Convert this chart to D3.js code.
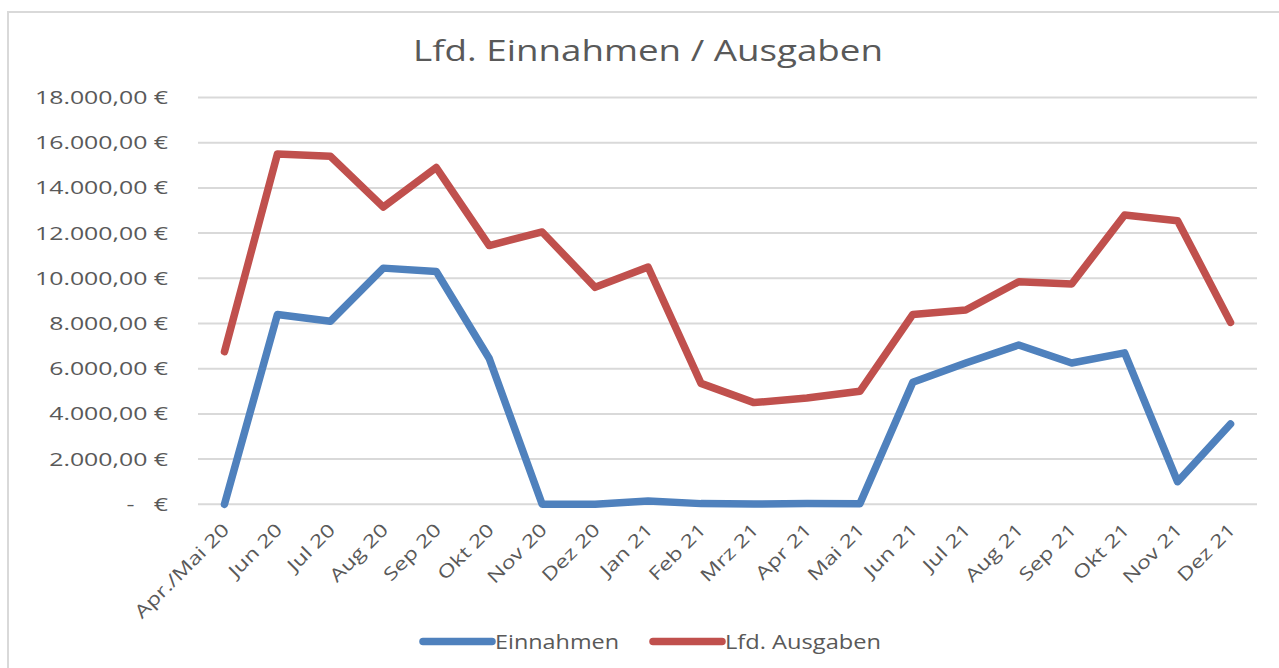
<!DOCTYPE html>
<html>
<head>
<meta charset="utf-8">
<script src="https://cdn.jsdelivr.net/npm/d3@7"></script>
<style>
  body { margin: 0; background: #fff; }
  text { font-family: "Open Sans", sans-serif; fill: #595959; }
</style>
</head>
<body>
<script>
// chart data
var categories = ["Apr./Mai 20", "Jun 20", "Jul 20", "Aug 20", "Sep 20", "Okt 20", "Nov 20", "Dez 20",
    "Jan 21", "Feb 21", "Mrz 21", "Apr 21", "Mai 21", "Jun 21", "Jul 21", "Aug 21", "Sep 21",
    "Okt 21", "Nov 21", "Dez 21"];
var einnahmen = [0, 8400, 8100, 10450, 10300, 6450, 0, 0, 150, 30, 10, 30, 20,
    5400, 6250, 7050, 6250, 6700, 1000, 3550];
var ausgaben = [6750, 15500, 15400, 13150, 14900, 11450, 12050, 9600, 10500, 5350, 4500, 4700, 5000,
    8400, 8600, 9850, 9750, 12800, 12550, 8050];
var yTicks = [0, 2000, 4000, 6000, 8000, 10000, 12000, 14000, 16000, 18000];
var seriesNames = ["Einnahmen", "Lfd. Ausgaben"];
var seriesColors = ["#4f81bd", "#c0504d"];

function init() {
    var width = 1279;
    var height = 668;

    var svg = d3.select("body").append("svg")
        .attr("width", width)
        .attr("height", height);

    // outer chart frame
    svg.append("rect")
        .attr("x", 8).attr("y", 12)
        .attr("width", 1300).attr("height", 700)
        .attr("fill", "none")
        .attr("stroke", "#d9d9d9")
        .attr("stroke-width", 2);

    var x = d3.scalePoint()
        .domain(categories)
        .range([198, 1257])
        .padding(0.5);

    var y = d3.scaleLinear()
        .domain([0, 18000])
        .range([504.3, 97.5]);

    var de = d3.formatLocale({ decimal: ",", thousands: ".", grouping: [3], currency: ["", " €"] });
    var fmt = de.format(",.2f");
    function label(v) { return v === 0 ? "-   €" : fmt(v) + " €"; }

    // gridlines
    svg.append("g").selectAll("line")
        .data(yTicks)
        .enter().append("line")
        .attr("x1", 198).attr("x2", 1257)
        .attr("y1", function(d) { return y(d); })
        .attr("y2", function(d) { return y(d); })
        .attr("stroke", "#d9d9d9")
        .attr("stroke-width", 2);

    // y axis labels
    var yLabels = svg.append("g").selectAll("text")
        .data(yTicks)
        .enter().append("text")
        .attr("x", 168)
        .attr("y", function(d) { return y(d) + 6.5; })
        .attr("text-anchor", "end")
        .attr("font-size", "18px")
        .attr("xml:space", "preserve")
        .text(label);
    // stretch like the source picture
    var refW = yLabels.filter(function(d) { return d === 18000; }).node().getComputedTextLength();
    var kY = 133 / refW;
    yLabels.each(function() {
        var w = this.getComputedTextLength();
        d3.select(this).attr("textLength", w * kY).attr("lengthAdjust", "spacingAndGlyphs");
    });

    // x axis labels (rotated)
    var xLabels = svg.append("g").selectAll("text")
        .data(categories)
        .enter().append("text")
        .attr("transform", function(d) { return "translate(" + (x(d) + 6) + ",531) rotate(-45)"; })
        .attr("text-anchor", "end")
        .attr("font-size", "18px")
        .text(function(d) { return d; });
    var refX = xLabels.filter(function(d) { return d === "Apr./Mai 20"; }).node().getComputedTextLength();
    var kX = 125 / refX;
    xLabels.each(function() {
        var w = this.getComputedTextLength();
        d3.select(this).attr("textLength", w * kX).attr("lengthAdjust", "spacingAndGlyphs");
    });

    // lines
    var line = d3.line()
        .x(function(d, i) { return x(categories[i]); })
        .y(function(d) { return y(d); });

    [einnahmen, ausgaben].forEach(function(values, i) {
        svg.append("path")
            .datum(values)
            .attr("d", line)
            .attr("fill", "none")
            .attr("stroke", seriesColors[i])
            .attr("stroke-width", 7.5)
            .attr("stroke-linejoin", "round")
            .attr("stroke-linecap", "round");
    });

    // title
    var title = svg.append("text")
        .attr("x", 413)
        .attr("y", 61)
        .attr("font-size", "29px")
        .text("Lfd. Einnahmen / Ausgaben");
    title.attr("textLength", 470).attr("lengthAdjust", "spacingAndGlyphs");

    // legend
    var legendX = [423, 653];
    var legendW = [124, 156];
    var legend = svg.append("g").selectAll("g")
        .data(seriesNames)
        .enter().append("g");

    legend.append("line")
        .attr("x1", function(d, i) { return legendX[i]; })
        .attr("x2", function(d, i) { return legendX[i] + 69; })
        .attr("y1", 641.5).attr("y2", 641.5)
        .attr("stroke", function(d, i) { return seriesColors[i]; })
        .attr("stroke-width", 7.5)
        .attr("stroke-linecap", "round");

    legend.append("text")
        .attr("x", function(d, i) { return legendX[i] + 72; })
        .attr("y", 648.5)
        .attr("font-size", "20px")
        .attr("textLength", function(d, i) { return legendW[i]; })
        .attr("lengthAdjust", "spacingAndGlyphs")
        .text(function(d) { return d; });
}

window.onload = init;
</script>
</body>
</html>
